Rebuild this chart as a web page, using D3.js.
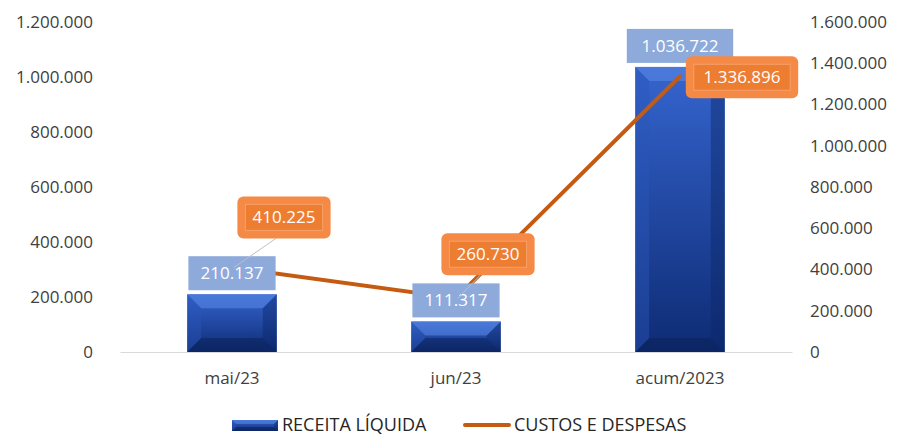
<!DOCTYPE html>
<html>
<head>
<meta charset="utf-8">
<script src="https://cdn.jsdelivr.net/npm/d3@7"></script>
<style>
  body { margin: 0; background: #fff; }
  svg { font-family: "Open Sans", "Noto Sans", sans-serif; }
</style>
</head>
<body>
<svg width="901" height="435"></svg>
<script>
const categorias = ['mai/23', 'jun/23', 'acum/2023'];
const receita = [210137, 111317, 1036722];
const custos = [410225, 260730, 1336896];
const ticksEsq = [0, 200000, 400000, 600000, 800000, 1000000, 1200000];
const ticksDir = [0, 200000, 400000, 600000, 800000, 1000000, 1200000, 1400000, 1600000];
// deslocamento dos rótulos laranja em relação ao ponto
const offsetRotulo = [[52, -50], [32, -44], [62, 1]];

const margens = { left: 120, right: 109, top: 22, bottom: 83 };
const svg = d3.select('svg');
const W = 901, H = 435;
const baseY = H - margens.bottom;

const loc = d3.formatLocale({ decimal: ',', thousands: '.', grouping: [3], currency: ['R$', ''] });
const fmt = loc.format(',d');

const mapX = d3.scaleBand().domain(categorias).range([margens.left, W - margens.right])
    .paddingInner(0.6).paddingOuter(0.3);
const mapY = d3.scaleLinear().domain([0, 1200000]).range([baseY, margens.top]);
const mapY2 = d3.scaleLinear().domain([0, 1600000]).range([baseY, margens.top]);

// ---- Gradientes
const defs = svg.append('defs');
const grad = defs.append('linearGradient').attr('id', 'gBar').attr('x1', 0).attr('x2', 0).attr('y1', 0).attr('y2', 1);
grad.append('stop').attr('offset', '0%').attr('stop-color', '#3565cf');
grad.append('stop').attr('offset', '100%').attr('stop-color', '#0e2b74');

// ---- Eixos
const axEsq = svg.append('g').attr('transform', `translate(${margens.left - 24},0)`)
    .call(d3.axisLeft(mapY).tickValues(ticksEsq).tickFormat(fmt).tickSize(0));
const axDir = svg.append('g').attr('transform', `translate(${W - margens.right + 15},0)`)
    .call(d3.axisRight(mapY2).tickValues(ticksDir).tickFormat(fmt).tickSize(0));
[axEsq, axDir].forEach(g => {
  g.select('.domain').remove();
  g.selectAll('text').attr('font-size', 17).attr('fill', '#404040')
    .attr('font-family', '"Open Sans", sans-serif');
});

const axX = svg.append('g').attr('transform', `translate(0,${baseY})`)
    .call(d3.axisBottom(mapX).tickSize(0).tickPadding(20));
axX.select('.domain').attr('stroke', '#d9d9d9');
axX.selectAll('text').attr('font-size', 17).attr('fill', '#404040')
  .attr('font-family', '"Open Sans", sans-serif');

// ---- Barras com chanfro
function barra(g, x, y, w, h, b) {
  g.append('rect').attr('x', x).attr('y', y).attr('width', w).attr('height', h).attr('fill', 'url(#gBar)');
  const bb = Math.min(b, h / 2, w / 2);
  g.append('polygon').attr('points', [[x, y], [x + w, y], [x + w - bb, y + bb], [x + bb, y + bb]].join(' '))
    .attr('fill', '#5b8be6').attr('opacity', 0.55);
  g.append('polygon').attr('points', [[x, y + h], [x + w, y + h], [x + w - bb, y + h - bb], [x + bb, y + h - bb]].join(' '))
    .attr('fill', '#0a1f55').attr('opacity', 0.5);
  g.append('polygon').attr('points', [[x, y], [x + bb, y + bb], [x + bb, y + h - bb], [x, y + h]].join(' '))
    .attr('fill', '#2a56b8').attr('opacity', 0.45);
  g.append('polygon').attr('points', [[x + w, y], [x + w - bb, y + bb], [x + w - bb, y + h - bb], [x + w, y + h]].join(' '))
    .attr('fill', '#0c2868').attr('opacity', 0.45);
}

const gBars = svg.append('g');
receita.forEach((v, i) => {
  const x = mapX(categorias[i]);
  barra(gBars, x, mapY(v), mapX.bandwidth(), baseY - mapY(v), 14);
});

// ---- Linha
const pts = custos.map((v, i) => [mapX(categorias[i]) + mapX.bandwidth() / 2, mapY2(v)]);
svg.append('path').datum(pts)
  .attr('fill', 'none').attr('stroke', '#c55a11').attr('stroke-width', 4).attr('stroke-linecap', 'round')
  .attr('d', d3.line());

// ---- Rótulos das barras
const gLab = svg.append('g');
receita.forEach((v, i) => {
  const cx = mapX(categorias[i]) + mapX.bandwidth() / 2;
  const y = mapY(v) - 4;
  const t = fmt(v);
  const w = t.length * 9.6 + 20;
  gLab.append('rect').attr('x', cx - w / 2).attr('y', y - 34).attr('width', w).attr('height', 34).attr('fill', '#8eaadb');
  gLab.append('text').attr('x', cx).attr('y', y - 11).attr('text-anchor', 'middle')
    .attr('font-size', 17).attr('fill', '#fff').text(t);
});

// ---- Rótulos laranja
custos.forEach((v, i) => {
  const [px, py] = pts[i];
  const cx = px + offsetRotulo[i][0], cy = py + offsetRotulo[i][1];
  const t = fmt(v);
  const w = t.length * 9.6 + 26;
  if (i < 2) {
    svg.append('line').attr('x1', cx - 8).attr('y1', cy + 21).attr('x2', px + 2).attr('y2', py)
      .attr('stroke', '#bfbfbf').attr('stroke-width', 1);
  }
  svg.append('rect').attr('x', cx - w / 2).attr('y', cy - 21).attr('width', w).attr('height', 42)
    .attr('rx', 6).attr('fill', '#f58a47');
  svg.append('rect').attr('x', cx - w / 2 + 8).attr('y', cy - 13).attr('width', w - 16).attr('height', 26)
    .attr('fill', '#ed7d31').attr('stroke', '#f7a06a').attr('stroke-width', 1);
  svg.append('text').attr('x', cx).attr('y', cy + 6).attr('text-anchor', 'middle')
    .attr('font-size', 17).attr('fill', '#fff').text(t);
});

// ---- Legenda
const leg = svg.append('g');
barra(leg, 232, 420, 46, 11, 4);
leg.append('text').attr('x', 282).attr('y', 431).attr('font-size', 18).attr('fill', '#262626').text('RECEITA LÍQUIDA');
leg.append('line').attr('x1', 465).attr('x2', 509).attr('y1', 425).attr('y2', 425)
  .attr('stroke', '#c55a11').attr('stroke-width', 4).attr('stroke-linecap', 'round');
leg.append('text').attr('x', 514).attr('y', 431).attr('font-size', 18).attr('fill', '#262626').text('CUSTOS E DESPESAS');
</script>
</body>
</html>
